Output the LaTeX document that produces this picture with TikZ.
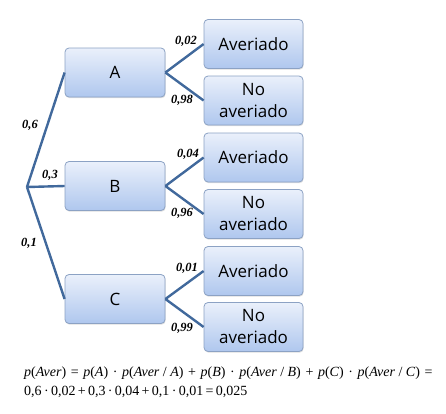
\documentclass[tikz,border=0pt]{standalone}
\usepackage{fontspec}
\setmainfont{Liberation Serif}
\newfontfamily\boxfont{Open Sans}
\usetikzlibrary{shadows}
\definecolor{edgeblue}{HTML}{41699C}
\definecolor{boxtop}{HTML}{EAF0FB}
\definecolor{boxbot}{HTML}{AFC7EE}
\definecolor{boxline}{HTML}{8CA2C4}
\newcommand{\og}{\hspace{4.6pt}}
\tikzset{
  box/.style={draw=boxline, line width=0.8pt, rounded corners=4pt,
    top color=boxtop, bottom color=boxbot, minimum width=#1, minimum height=49pt,
    inner sep=0pt, align=center, font=\boxfont\fontsize{17}{22}\selectfont,
    drop shadow={shadow xshift=0.6pt, shadow yshift=-1.2pt, opacity=0.25}},
  box/.default=100pt,
  br/.style={draw=edgeblue, line width=2.4pt},
  prob/.style={font=\bfseries\itshape\fontsize{12.5}{14}\selectfont, inner sep=0pt}
}
\begin{document}
\begin{tikzpicture}[x=1pt,y=-1pt]
\useasboundingbox (0,0) rectangle (446,413);
\coordinate (root) at (27,187);
\node[box] (A) at (115,72.5) {A};
\node[box] (B) at (115,186) {B};
\node[box] (C) at (115,299) {C};
\node[box=99pt] (A1) at (253.5,44) {Averiado};
\node[box=99pt] (A2) at (253.5,100.5) {No\\averiado};
\node[box=99pt] (B1) at (253.5,157.5) {Averiado};
\node[box=99pt] (B2) at (253.5,214) {No\\averiado};
\node[box=99pt] (C1) at (253.5,271) {Averiado};
\node[box=99pt] (C2) at (253.5,327) {No\\averiado};
\draw[br] (root) -- (A.west);
\draw[br] (root) -- (B.west);
\draw[br] (root) -- (C.west);
\draw[br] (A.east) -- (A1.west);
\draw[br] (A.east) -- (A2.west);
\draw[br] (B.east) -- (B1.west);
\draw[br] (B.east) -- (B2.west);
\draw[br] (C.east) -- (C1.west);
\draw[br] (C.east) -- (C2.west);
\node[prob] (p6) at (30,125) {0,6};
\node[prob] (p3) at (50,175) {0,3};
\node[prob] (p1) at (29,243) {0,1};
\node[prob] (p02) at (186,41) {0,02};
\node[prob] (p98) at (182,100) {0,98};
\node[prob] (p04) at (188,154) {0,04};
\node[prob] (p96) at (182,213) {0,96};
\node[prob] (p01) at (187,268) {0,01};
\node[prob] (p99) at (182,328) {0,99};
\node[anchor=west, inner sep=0pt, font=\fontsize{14}{19}\selectfont, align=left] (f) at (24,382)
{\textit{p}(\textit{Aver})\og=\og\textit{p}(\textit{A})\og·\og\textit{p}(\textit{Aver} / \textit{A})\og+\og\textit{p}(\textit{B})\og·\og\textit{p}(\textit{Aver} / \textit{B})\og+\og\textit{p}(\textit{C})\og·\og\textit{p}(\textit{Aver} / \textit{C})\og=\\
0,6\,·\,0,02\,+\,0,3\,·\,0,04\,+\,0,1\,·\,0,01\,=\,0,025};
\end{tikzpicture}
\end{document}
